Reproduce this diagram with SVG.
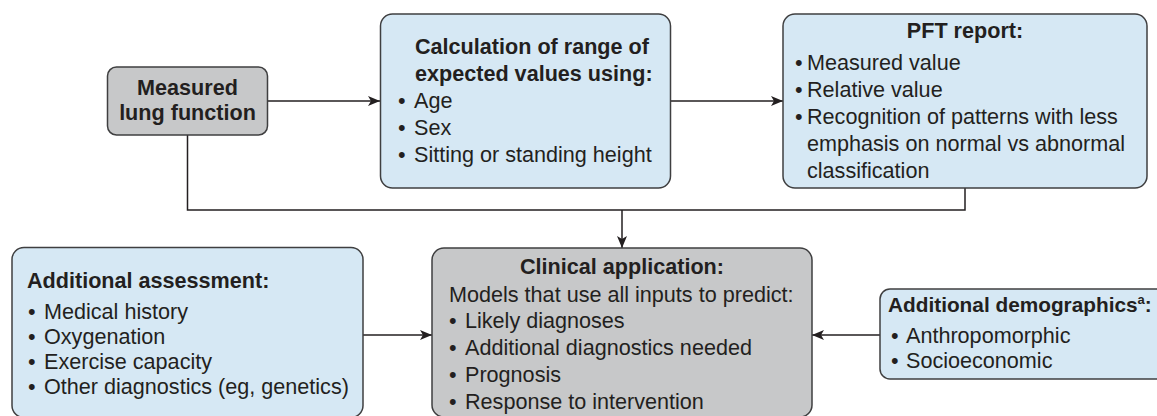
<svg xmlns="http://www.w3.org/2000/svg" width="1157" height="416" viewBox="0 0 1157 416">
<defs>
<style>
.box{stroke:#3f3f40;stroke-width:1.5}
.blue{fill:#d6e8f4}
.gray{fill:#c7c8c9}
text{font-family:"Liberation Sans",Arial,Helvetica,sans-serif;font-size:21.6px;fill:#231f20}
.b{font-weight:bold}
.c{text-anchor:middle}
.ln{fill:none;stroke:#231f20;stroke-width:1.5}
</style>
<marker id="ah" viewBox="0 0 12 10" refX="12" refY="5" markerWidth="12" markerHeight="10" markerUnits="userSpaceOnUse" orient="auto">
<path d="M0,0 L12,5 L0,10 L3,5 z" fill="#231f20"/>
</marker>
</defs>
<rect width="1157" height="416" fill="#ffffff"/>

<g id="connectors">
<line class="ln" x1="268" y1="101" x2="380" y2="101" marker-end="url(#ah)"/>
<line class="ln" x1="671" y1="101" x2="783" y2="101" marker-end="url(#ah)"/>
<polyline class="ln" points="187.5,135 187.5,210 965,210 965,188"/>
<line class="ln" x1="622" y1="210" x2="622" y2="248" marker-end="url(#ah)"/>
<line class="ln" x1="363" y1="335" x2="432" y2="335" marker-end="url(#ah)"/>
<line class="ln" x1="880" y1="335" x2="812" y2="335" marker-end="url(#ah)"/>
</g>

<g id="measured">
<rect class="box gray" x="107.5" y="67" width="160" height="68" rx="9"/>
<text class="b c" x="187.5" y="95">Measured</text>
<text class="b c" x="187.5" y="120">lung function</text>
</g>

<g id="calculation">
<rect class="box blue" x="380.5" y="14" width="290" height="174" rx="12"/>
<text class="b" x="415" y="54">Calculation of range of</text>
<text class="b" x="415" y="81">expected values using:</text>
<text y="108"><tspan x="398">•</tspan><tspan x="414">Age</tspan></text>
<text y="135"><tspan x="398">•</tspan><tspan x="414">Sex</tspan></text>
<text y="162"><tspan x="398">•</tspan><tspan x="414">Sitting or standing height</tspan></text>
</g>

<g id="pft">
<rect class="box blue" x="783" y="14" width="364" height="174" rx="12"/>
<text class="b c" x="965" y="38">PFT report:</text>
<text y="70"><tspan x="795">•</tspan><tspan x="807">Measured value</tspan></text>
<text y="97"><tspan x="795">•</tspan><tspan x="807">Relative value</tspan></text>
<text y="124"><tspan x="795">•</tspan><tspan x="807">Recognition of patterns with less</tspan></text>
<text x="807" y="151">emphasis on normal vs abnormal</text>
<text x="807" y="178">classification</text>
</g>

<g id="assessment">
<rect class="box blue" x="12" y="247.5" width="351" height="170" rx="12"/>
<text class="b" x="27" y="288">Additional assessment:</text>
<text y="319"><tspan x="28">•</tspan><tspan x="44">Medical history</tspan></text>
<text y="344"><tspan x="28">•</tspan><tspan x="44">Oxygenation</tspan></text>
<text y="369"><tspan x="28">•</tspan><tspan x="44">Exercise capacity</tspan></text>
<text y="394"><tspan x="28">•</tspan><tspan x="44">Other diagnostics (eg, genetics)</tspan></text>
</g>

<g id="clinical">
<rect class="box gray" x="432" y="248" width="380" height="169" rx="12"/>
<text class="b c" x="622" y="274">Clinical application:</text>
<text x="449" y="302">Models that use all inputs to predict:</text>
<text y="328"><tspan x="449">•</tspan><tspan x="465">Likely diagnoses</tspan></text>
<text y="355"><tspan x="449">•</tspan><tspan x="465">Additional diagnostics needed</tspan></text>
<text y="382"><tspan x="449">•</tspan><tspan x="465">Prognosis</tspan></text>
<text y="409"><tspan x="449">•</tspan><tspan x="465">Response to intervention</tspan></text>
</g>

<g id="demographics">
<rect class="box blue" x="880" y="289" width="300" height="90" rx="10"/>
<text class="b" x="888" y="312" style="font-size:20.8px">Additional demographics<tspan style="font-size:13px" dy="-8">a</tspan><tspan dy="8">:</tspan></text>
<text y="343"><tspan x="891">•</tspan><tspan x="906">Anthropomorphic</tspan></text>
<text y="368"><tspan x="891">•</tspan><tspan x="906">Socioeconomic</tspan></text>
</g>
</svg>
